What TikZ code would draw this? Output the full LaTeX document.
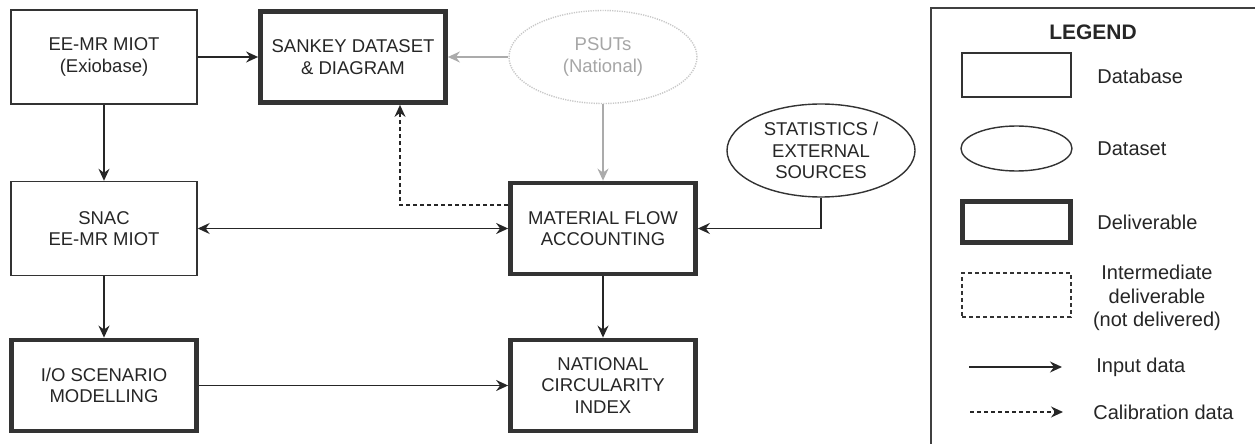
\documentclass[tikz,border=0pt]{standalone}
\usepackage{fontspec}
\setmainfont{Liberation Sans}
\usetikzlibrary{arrows.meta,shapes.geometric,calc}

\begin{document}
\begin{tikzpicture}[x=0.5pt, y=-0.5pt,
        font=\fontsize{9.25}{10.75}\selectfont, text=black!85,
        >={Stealth[length=6pt, width=5.5pt, inset=2pt]},
        dbbox/.style={draw=black!80, line width=0.7pt, align=center, inner sep=0pt,
            minimum width=93pt, minimum height=47pt},
        delivbox/.style={dbbox, line width=2.4pt, minimum width=92.5pt, minimum height=45.5pt},
        dsellipse/.style={dbbox, ellipse, minimum width=94pt, minimum height=46.5pt},
        faded/.style={draw=black!22, text=black!35, dash pattern=on 0.6pt off 0.6pt},
        conn/.style={draw=black!85, line width=0.7pt},
        fadedconn/.style={draw=black!33, line width=0.7pt},
        calib/.style={conn, dash pattern=on 2pt off 1.5pt},
        keylabel/.style={font=\fontsize{10}{11.75}\selectfont, align=center, inner sep=0pt}]
    \fill[white] (0,0) rectangle (1255,444);
    \useasboundingbox (0,0) rectangle (1255,444);
    \clip (0,0) rectangle (1255,444);

    % Main flow
    \node[dbbox] (exio) at (104,57) {EE-MR MIOT\\(Exiobase)};
    \node[delivbox] (sankey) at (353,57) {SANKEY DATASET\\\& DIAGRAM};
    \node[dsellipse, faded] (psut) at (603,57) {PSUTs\\(National)};
    \node[dbbox] (snac) at (104,228.5) {SNAC\\EE-MR MIOT};
    \node[delivbox] (mfa) at (603,228.5) {MATERIAL FLOW\\ACCOUNTING};
    \node[dsellipse] (stats) at (821,150.5) {STATISTICS /\\EXTERNAL\\SOURCES};
    \node[delivbox] (io) at (104,385.5) {I/O SCENARIO\\MODELLING};
    \node[delivbox] (nci) at (603,385.5) {NATIONAL\\CIRCULARITY\\INDEX};

    \draw[->, conn] (exio) -- (sankey);
    \draw[->, fadedconn] (psut) -- (sankey);
    \draw[->, fadedconn] (psut) -- (mfa);
    \draw[->, conn] (exio) -- (snac);
    \draw[<->, conn] (snac) -- (mfa);
    \draw[->, conn] (stats.south) |- (mfa.east);
    \draw[->, calib] ($(mfa.west)+(0,-23.5)$) -| ($(sankey.south)+(47,0)$);
    \draw[->, conn] (snac) -- (io);
    \draw[->, conn] (mfa) -- (nci);
    \draw[->, conn] (io) -- (nci);

    % Legend
    \draw[draw=black!75, line width=0.7pt] (931,8) rectangle (1275,460);
    \node[keylabel, font=\fontsize{10.5}{12}\selectfont\bfseries] (keytitle) at (1093,32) {LEGEND};

    \node[dbbox, minimum width=54.5pt, minimum height=22pt] (keydb) at (1016.5,75) {};
    \node[keylabel, anchor=west] (keydbtxt) at (1097,76) {Database};

    \node[dsellipse, minimum width=55.5pt, minimum height=22.5pt] (keyds) at (1016.5,148.5) {};
    \node[keylabel, anchor=west] (keydstxt) at (1097,149) {Dataset};

    \node[delivbox, minimum width=54pt, minimum height=20.5pt] (keydl) at (1016.5,222) {};
    \node[keylabel, anchor=west] (keydltxt) at (1097,222) {Deliverable};

    \node[dbbox, dash pattern=on 2pt off 1.5pt, minimum width=54.5pt, minimum height=22pt] (keyim) at (1016.5,295) {};
    \node[keylabel] (keyimtxt) at (1157,298) {Intermediate\\deliverable\\(not delivered)};

    \coordinate (keyina) at (969,367);
    \coordinate (keyinb) at (1062,367);
    \draw[->, conn] (keyina) -- (keyinb);
    \node[keylabel, anchor=west] (keyintxt) at (1096,367) {Input data};

    \coordinate (keyca) at (970,412);
    \coordinate (keycb) at (1063,412);
    \draw[->, calib] (keyca) -- (keycb);
    \node[keylabel, anchor=west] (keycatxt) at (1093,412) {Calibration data};
\end{tikzpicture}
\end{document}
